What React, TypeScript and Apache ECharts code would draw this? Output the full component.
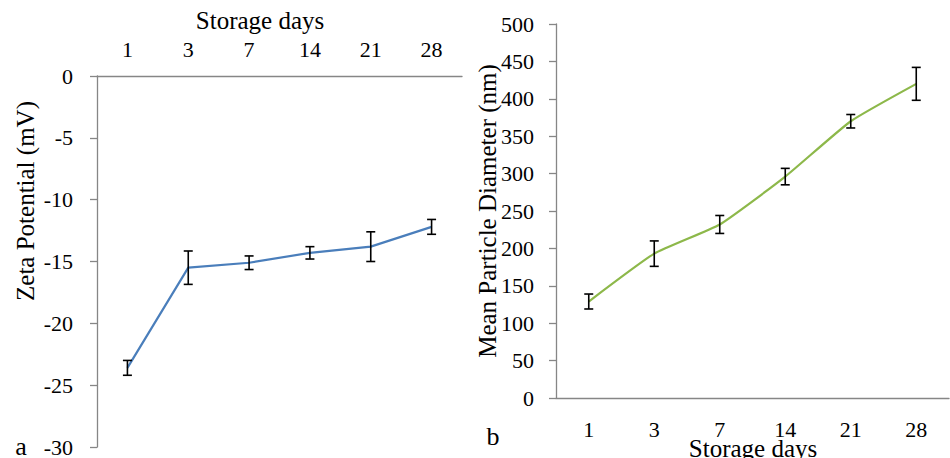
import React, { useEffect, useRef } from "react";
import * as echarts from "echarts";

const days = ["1", "3", "7", "14", "21", "28"];
const zetaMean = [-23.6, -15.5, -15.1, -14.3, -13.8, -12.2];
const zetaErr = [0.6, 1.35, 0.55, 0.5, 1.2, 0.6];
const diameterMean = [129, 193, 232, 296, 370, 420];
const diameterErr = [10, 17, 12, 11, 9, 22];

const FONT = "Liberation Serif";
const AXIS_GRAY = "#868686";

function errorRender(params: any, api: any) {
  const x = api.value(0);
  const lo = api.coord([x, api.value(1)]);
  const hi = api.coord([x, api.value(2)]);
  const w = 4.5;
  const style = { stroke: "#000", lineWidth: 1.6 };
  return {
    type: "group",
    children: [
      { type: "line", shape: { x1: lo[0], y1: lo[1], x2: hi[0], y2: hi[1] }, style },
      { type: "line", shape: { x1: lo[0] - w, y1: lo[1], x2: lo[0] + w, y2: lo[1] }, style },
      { type: "line", shape: { x1: hi[0] - w, y1: hi[1], x2: hi[0] + w, y2: hi[1] }, style },
    ],
  };
}

export default function App() {
  const ref = useRef<HTMLDivElement>(null);
  useEffect(() => {
    document.body.style.margin = "0";
    if (!ref.current) return;
    const chart = echarts.init(ref.current, undefined, { renderer: "svg" });
    const labelStyle = { color: "#000", fontFamily: FONT, fontSize: 22 };
    const titleStyle = { fill: "#000", fontFamily: FONT, fontSize: 25 };
    chart.setOption({
      animation: false,
      backgroundColor: "#fff",
      textStyle: { fontFamily: FONT },
      grid: [
        { left: 97, top: 76, width: 365, height: 372 },
        { left: 556, top: 24, width: 393, height: 374 },
      ],
      xAxis: [
        {
          type: "category",
          gridIndex: 0,
          position: "top",
          data: days,
          axisLine: { lineStyle: { color: AXIS_GRAY, width: 1.3 } },
          axisTick: { inside: true, length: 6, lineStyle: { color: AXIS_GRAY, width: 1.3 } },
          axisLabel: { ...labelStyle, margin: 16 },
        },
        {
          type: "category",
          gridIndex: 1,
          position: "bottom",
          data: days,
          axisLine: { lineStyle: { color: AXIS_GRAY, width: 1.3 } },
          axisTick: { length: 7, lineStyle: { color: AXIS_GRAY, width: 1.3 } },
          axisLabel: { ...labelStyle, margin: 20 },
        },
      ],
      yAxis: [
        {
          type: "value",
          gridIndex: 0,
          min: -30,
          max: 0,
          interval: 5,
          splitLine: { show: false },
          axisLine: { show: true, lineStyle: { color: AXIS_GRAY, width: 1.3 } },
          axisTick: { show: true, length: 7, lineStyle: { color: AXIS_GRAY, width: 1.3 } },
          axisLabel: { ...labelStyle, margin: 24 },
        },
        {
          type: "value",
          gridIndex: 1,
          min: 0,
          max: 500,
          interval: 50,
          splitLine: { show: false },
          axisLine: { show: true, lineStyle: { color: AXIS_GRAY, width: 1.3 } },
          axisTick: { show: true, length: 7, lineStyle: { color: AXIS_GRAY, width: 1.3 } },
          axisLabel: { ...labelStyle, margin: 22 },
        },
      ],
      series: [
        {
          type: "line",
          xAxisIndex: 0,
          yAxisIndex: 0,
          data: zetaMean,
          symbol: "none",
          lineStyle: { color: "#4A7EBB", width: 2.2 },
          z: 2,
        },
        {
          type: "custom",
          xAxisIndex: 0,
          yAxisIndex: 0,
          renderItem: errorRender,
          encode: { x: 0, y: [1, 2] },
          data: days.map((_, i) => [i, zetaMean[i] - zetaErr[i], zetaMean[i] + zetaErr[i]]),
          z: 3,
        },
        {
          type: "line",
          xAxisIndex: 1,
          yAxisIndex: 1,
          data: diameterMean,
          symbol: "none",
          smooth: 0.15,
          lineStyle: { color: "#8DB84A", width: 2.2 },
          z: 2,
        },
        {
          type: "custom",
          xAxisIndex: 1,
          yAxisIndex: 1,
          renderItem: errorRender,
          encode: { x: 0, y: [1, 2] },
          data: days.map((_, i) => [i, diameterMean[i] - diameterErr[i], diameterMean[i] + diameterErr[i]]),
          z: 3,
        },
      ],
      graphic: [
        {
          type: "text",
          x: 260,
          y: 20,
          style: { ...titleStyle, text: "Storage days", textAlign: "center", textVerticalAlign: "middle" },
        },
        {
          type: "text",
          x: 753,
          y: 448,
          style: { ...titleStyle, text: "Storage days", textAlign: "center", textVerticalAlign: "middle" },
        },
        {
          type: "text",
          x: 25,
          y: 201,
          rotation: Math.PI / 2,
          style: { ...titleStyle, text: "Zeta Potential (mV)", textAlign: "center", textVerticalAlign: "middle" },
        },
        {
          type: "text",
          x: 487,
          y: 211,
          rotation: Math.PI / 2,
          style: { ...titleStyle, text: "Mean Particle Diameter (nm)", textAlign: "center", textVerticalAlign: "middle" },
        },
        {
          type: "text",
          x: 21,
          y: 446,
          style: { ...titleStyle, fontSize: 26, text: "a", textAlign: "center", textVerticalAlign: "middle" },
        },
        {
          type: "text",
          x: 493,
          y: 436,
          style: { ...titleStyle, fontSize: 26, text: "b", textAlign: "center", textVerticalAlign: "middle" },
        },
      ],
    });
    return () => chart.dispose();
  }, []);
  return <div ref={ref} style={{ width: 950, height: 458 }} />;
}
